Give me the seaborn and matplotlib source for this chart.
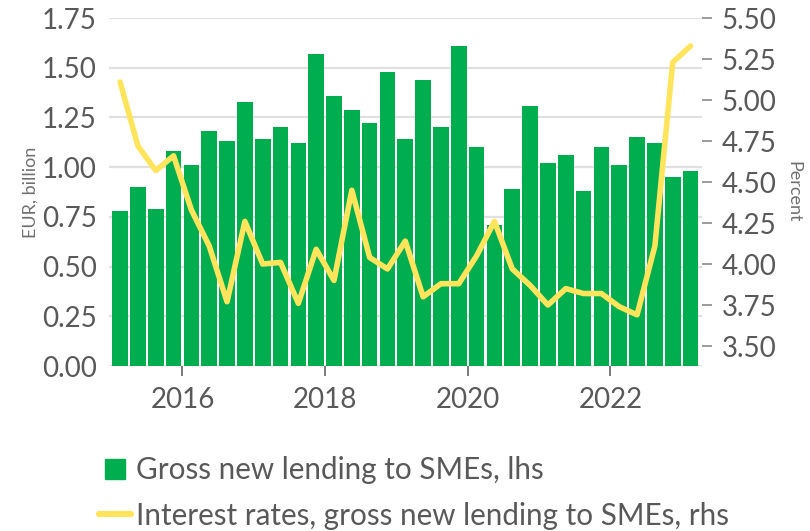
import numpy as np
import pandas as pd
import seaborn as sns
import matplotlib.pyplot as plt
from matplotlib.lines import Line2D

# Quarterly data, 2015Q1 - 2023Q1
quarters = pd.period_range("2015Q1", "2023Q1", freq="Q").astype(str)

lending = [0.78, 0.90, 0.79, 1.08, 1.01, 1.18, 1.13, 1.33, 1.14, 1.20, 1.12,
           1.57, 1.36, 1.29, 1.22, 1.48, 1.14, 1.44, 1.20, 1.61, 1.10, 0.71,
           0.89, 1.31, 1.02, 1.06, 0.88, 1.10, 1.01, 1.15, 1.12, 0.95, 0.98]

rates = [5.11, 4.72, 4.57, 4.66, 4.33, 4.11, 3.77, 4.26, 4.00, 4.01, 3.76,
         4.09, 3.90, 4.45, 4.04, 3.97, 4.14, 3.80, 3.88, 3.88, 4.05, 4.26,
         3.97, 3.87, 3.75, 3.85, 3.82, 3.82, 3.74, 3.69, 4.11, 5.23, 5.33]

year_ticks = [3.5, 11.5, 19.5, 27.5]
year_labels = ["2016", "2018", "2020", "2022"]

GREEN = "#00ad4f"
YELLOW = "#ffe45c"
TEXT = "#595959"

df = pd.DataFrame({"quarter": quarters, "lending": lending, "rates": rates})
df["pos"] = np.arange(len(df))

sns.set_theme(style="white")
plt.rcParams["font.family"] = ["Lato", "DejaVu Sans"]

fig = plt.figure(figsize=(8.1, 5.31), dpi=100, facecolor="white")
ax = fig.add_axes([0.1346, 0.3107, 0.732, 0.6553])
ax.set_facecolor("none")

sns.barplot(data=df, x="pos", y="lending", color=GREEN, width=0.88,
            saturation=1, linewidth=0, ax=ax, zorder=2)
ax.set_ylim(0, 1.75)
ax.set_xlim(-0.62, 32.64)
ax.set_yticks(np.arange(0, 1.76, 0.25))
ax.set_yticklabels([f"{v:.2f}" for v in np.arange(0, 1.76, 0.25)])
ax.yaxis.grid(True, color="#e0e0e0", linewidth=1.6, zorder=0)
ax.set_axisbelow(True)
ax.set_xticks(year_ticks)
ax.set_xticklabels(year_labels)
ax.tick_params(axis="y", length=0, pad=9, labelsize=20, labelcolor=TEXT)
ax.tick_params(axis="x", length=7, width=1.3, color="#707070", pad=8,
               labelsize=20, labelcolor=TEXT, bottom=True)
ax.set_xlabel("")
ax.set_ylabel("EUR, billion", fontsize=13, color="#707070", labelpad=2)
for s in ax.spines.values():
    s.set_visible(False)

ax2 = ax.twinx()
sns.lineplot(data=df, x="pos", y="rates", color=YELLOW, linewidth=4,
             ax=ax2, zorder=3)
ax2.set_ylim(3.378, 5.50)
ax2.set_yticks(np.arange(3.5, 5.51, 0.25))
ax2.set_yticklabels([f"{v:.2f}" for v in np.arange(3.5, 5.51, 0.25)])
ax2.tick_params(axis="y", length=7, width=1.1, color="#808080", pad=7,
                labelsize=20, labelcolor=TEXT, right=True)
ax2.set_ylabel("Percent", fontsize=13, color="#707070", rotation=270,
               labelpad=18)
ax2.set_xlabel("")
for s in ax2.spines.values():
    s.set_visible(False)

handles = [
    Line2D([], [], marker="s", markersize=15, linestyle="none", color=GREEN),
    Line2D([], [], color=YELLOW, linewidth=4.5),
]
labels = ["Gross new lending to SMEs, lhs",
          "Interest rates, gross new lending to SMEs, rhs"]
fig.legend(handles, labels, loc="upper left", bbox_to_anchor=(0.122, 0.1415),
           frameon=False, fontsize=21.3, handlelength=1.1, handletextpad=0.15,
           labelspacing=0.6, borderpad=0, borderaxespad=0, labelcolor=TEXT)

fig.savefig("out.png", dpi=100, facecolor=fig.get_facecolor())
